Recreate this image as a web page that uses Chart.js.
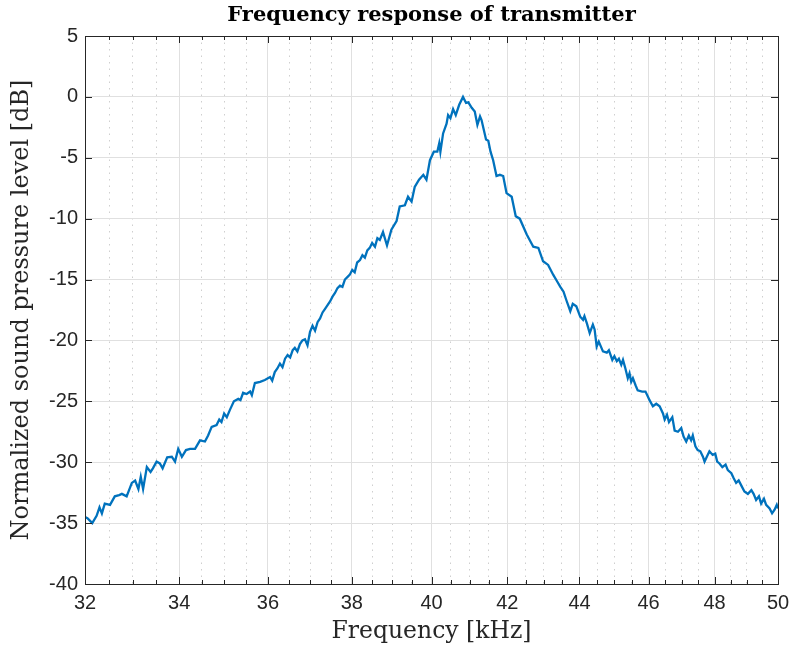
<!DOCTYPE html>
<html>
<head>
<meta charset="utf-8">
<script src="https://cdn.jsdelivr.net/npm/chart.js@4"></script>
<style>
html,body{margin:0;padding:0;background:#ffffff;}
#wrap{width:793px;height:649px;}
</style>
</head>
<body>
<div id="wrap"><canvas id="c" width="793" height="649"></canvas></div>
<script>
const freqKHz = [
32.00,32.05,32.10,32.15,32.24,32.30,32.35,32.41,32.52,32.62,32.71,32.77,32.87,32.98,33.05,33.12,33.17,33.22,33.30,33.38,
33.43,33.51,33.58,33.64,33.74,33.84,33.91,33.98,34.06,34.15,34.24,34.35,34.46,34.57,34.64,34.72,34.83,34.89,34.94,35.00,
35.06,35.13,35.22,35.32,35.37,35.43,35.51,35.59,35.63,35.70,35.82,35.93,
36.05,36.10,36.16,36.22,36.28,36.34,36.40,36.46,36.52,36.58,36.63,36.69,36.75,36.81,36.87,36.93,36.99,37.05,37.11,37.17,
37.23,37.29,37.35,37.41,37.47,37.53,37.59,37.65,37.71,37.77,37.83,37.89,37.95,38.01,38.07,38.13,38.20,38.26,38.32,38.38,
38.44,38.50,38.57,38.63,
38.69,38.77,38.87,38.98,39.11,39.19,39.32,39.40,39.49,39.57,39.68,39.79,39.87,39.96,40.06,40.15,40.20,40.23,40.30,40.39,
40.43,40.49,40.56,40.63,40.72,40.82,40.90,40.96,41.05,41.13,41.20,41.27,41.31,41.43,41.49,41.55,41.62,41.71,41.80,41.89,
41.98,42.12,42.23,42.34,42.53,42.71,42.85,42.98,43.12,43.26,43.36,43.46,43.55,
43.63,43.74,43.81,43.91,44.02,44.10,44.14,44.21,44.29,44.38,44.43,44.49,44.55,44.67,44.78,44.84,44.94,45.00,45.07,45.13,
45.20,45.25,45.32,45.39,45.44,45.49,45.54,45.62,45.68,45.81,45.91,45.98,46.03,46.13,46.23,46.33,46.43,46.48,46.55,46.61,
46.71,46.78,46.88,46.98,47.05,47.13,47.21,47.28,47.33,47.41,47.48,47.56,47.64,47.69,47.76,47.84,47.94,48.02,48.08,48.15,
48.24,48.34,48.41,48.52,48.59,48.67,48.75,48.83,48.93,49.04,49.15,49.22,49.30,49.39,49.46,49.55,49.62,49.73,49.81,49.89,
49.96,50.00
];
const splDb = [
-34.5,-34.6,-34.8,-35.0,-34.4,-33.7,-34.2,-33.4,-33.5,-32.8,-32.7,-32.6,-32.8,-31.7,-31.5,-32.2,-31.2,-32.2,-30.4,-30.8,
-30.5,-29.95,-30.1,-30.5,-29.6,-29.55,-29.95,-28.9,-29.55,-29.0,-28.9,-28.9,-28.2,-28.3,-27.8,-27.1,-26.95,-26.5,-26.7,-26.0,
-26.3,-25.7,-25.0,-24.8,-24.9,-24.3,-24.4,-24.2,-24.5,-23.5,-23.4,-23.25,
-23.0,-23.3,-22.6,-22.3,-21.9,-22.2,-21.5,-21.2,-21.4,-20.8,-20.6,-20.9,-20.3,-20.0,-19.9,-20.4,-19.3,-18.8,-19.2,-18.5,
-18.2,-17.7,-17.4,-17.1,-16.8,-16.4,-16.1,-15.7,-15.5,-15.6,-15.0,-14.8,-14.6,-14.2,-14.4,-13.6,-13.4,-13.0,-13.2,-12.6,
-12.4,-12.0,-12.3,-11.6,
-11.75,-11.1,-12.2,-10.9,-10.2,-9.0,-8.9,-8.2,-8.6,-7.4,-6.8,-6.4,-6.8,-5.2,-4.5,-4.5,-3.8,-4.5,-3.0,-2.2,
-1.5,-1.75,-1.0,-1.5,-0.65,0.0,-0.5,-0.45,-0.9,-1.2,-2.3,-1.6,-1.9,-3.5,-3.6,-4.5,-5.2,-6.5,-6.4,-6.5,
-7.9,-8.2,-9.8,-10.0,-11.3,-12.3,-12.4,-13.5,-13.8,-14.6,-15.1,-15.6,-16.0,
-16.7,-17.6,-17.0,-17.2,-18.05,-18.3,-18.0,-18.6,-19.4,-18.7,-19.1,-20.5,-20.1,-20.9,-21.0,-20.8,-21.6,-21.3,-21.7,-21.5,
-22.0,-21.6,-22.3,-23.1,-22.7,-23.4,-23.1,-23.7,-24.1,-24.2,-24.2,-24.6,-24.9,-25.4,-25.2,-25.4,-26.0,-26.5,-26.1,-26.7,
-26.3,-27.4,-27.5,-27.2,-27.9,-28.3,-27.8,-28.2,-27.8,-28.7,-29.0,-29.1,-29.55,-29.95,-29.55,-29.1,-29.4,-29.3,-29.95,-30.1,
-30.4,-30.2,-30.65,-30.9,-31.3,-31.7,-31.5,-31.9,-32.4,-32.6,-32.3,-32.6,-33.1,-32.8,-33.4,-33.0,-33.5,-33.8,-34.2,-33.9,
-33.5,-33.8
];
const xMajorTicks = [32,34,36,38,40,42,44,46,48,50];
const xMinorTicks = [32.5,33,33.5,34.5,35,35.5,36.5,37,37.5,38.5,39,39.5,40.5,41,41.5,42.5,43,43.5,44.5,45,45.5,46.5,47,47.5,48.5,49,49.5];
const yTicks = [-40,-35,-30,-25,-20,-15,-10,-5,0,5];

const titleText = 'Frequency response of transmitter';
const xLabel = 'Frequency [kHz]';
const yLabel = 'Normalized sound pressure level [dB]';

const AXIS_COLOR = '#262626';

const axesBoxPlugin = {
  id: 'axesBox',
  afterDraw(chart) {
    const { ctx, chartArea: a, scales } = chart;
    ctx.save();
    ctx.strokeStyle = AXIS_COLOR;
    ctx.lineWidth = 1;
    ctx.beginPath();
    const drawX = (vals, len) => {
      for (const v of vals) {
        const px = Math.round(scales.x.getPixelForValue(v)) + 0.5;
        ctx.moveTo(px, a.bottom); ctx.lineTo(px, a.bottom - len);
        ctx.moveTo(px, a.top); ctx.lineTo(px, a.top + len);
      }
    };
    drawX(xMajorTicks, 7);
    drawX(xMinorTicks, 4);
    for (const v of yTicks) {
      const py = Math.round(scales.y.getPixelForValue(v)) + 0.5;
      ctx.moveTo(a.left, py); ctx.lineTo(a.left + 7, py);
      ctx.moveTo(a.right, py); ctx.lineTo(a.right - 7, py);
    }
    ctx.stroke();
    ctx.strokeRect(Math.round(a.left) + 0.5, Math.round(a.top) + 0.5,
      Math.round(a.right - a.left), Math.round(a.bottom - a.top));
    ctx.restore();
  }
};

const ctx = document.getElementById('c').getContext('2d');
new Chart(ctx, {
  type: 'line',
  data: {
    datasets: [{
      data: freqKHz.map((f, i) => ({ x: f, y: splDb[i] })),
      borderColor: '#0072BD',
      borderWidth: 2.3,
      pointRadius: 0,
      tension: 0,
      fill: false
    }]
  },
  options: {
    responsive: false,
    animation: false,
    devicePixelRatio: 1,
    layout: { padding: { left: 0, right: 15, top: 0, bottom: 0 } },
    plugins: {
      legend: { display: false },
      tooltip: { enabled: false },
      title: {
        display: true,
        text: titleText,
        fullSize: false,
        color: '#000000',
        font: { family: 'DejaVu Serif', size: 21, weight: 'bold', lineHeight: 1.2 },
        padding: { top: 3, bottom: 7.8 }
      }
    },
    scales: {
      x: {
        type: 'logarithmic',
        min: 32, max: 50,
        afterBuildTicks: s => { s.ticks = xMajorTicks.map(v => ({ value: v })); },
        afterFit: s => { s.height = 65; s.paddingLeft = 0; s.paddingRight = 0; },
        ticks: {
          callback: v => String(v),
          color: AXIS_COLOR,
          font: { family: 'Liberation Sans', size: 20 },
          padding: 7,
          maxRotation: 0,
          autoSkip: false
        },
        grid: { color: '#e0e0e0', lineWidth: 1, drawTicks: false },
        border: { display: false },
        title: {
          display: true,
          text: xLabel,
          color: AXIS_COLOR,
          font: { family: 'DejaVu Serif', size: 23.5, lineHeight: 1.2 },
          padding: { top: 0, bottom: 3 }
        }
      },
      x2: {
        type: 'logarithmic',
        position: 'bottom',
        min: 32, max: 50,
        afterBuildTicks: s => { s.ticks = xMinorTicks.map(v => ({ value: v })); },
        afterFit: s => { s.height = 0; s.paddingLeft = 0; s.paddingRight = 0; },
        ticks: { display: false },
        grid: { color: '#cfcfcf', lineWidth: 1, drawTicks: false },
        border: { display: false, dash: [1.5, 5] }
      },
      y: {
        type: 'linear',
        min: -40, max: 5,
        afterBuildTicks: s => { s.ticks = yTicks.map(v => ({ value: v })); },
        afterFit: s => { s.width = 85; },
        ticks: {
          color: AXIS_COLOR,
          font: { family: 'Liberation Sans', size: 20 },
          padding: 7
        },
        grid: { color: '#e0e0e0', lineWidth: 1, drawTicks: false },
        border: { display: false },
        title: {
          display: true,
          text: yLabel,
          color: AXIS_COLOR,
          font: { family: 'DejaVu Serif', size: 24, lineHeight: 1.2 },
          padding: { top: 7, bottom: 0 }
        }
      }
    }
  },
  plugins: [axesBoxPlugin]
});
</script>
</body>
</html>
